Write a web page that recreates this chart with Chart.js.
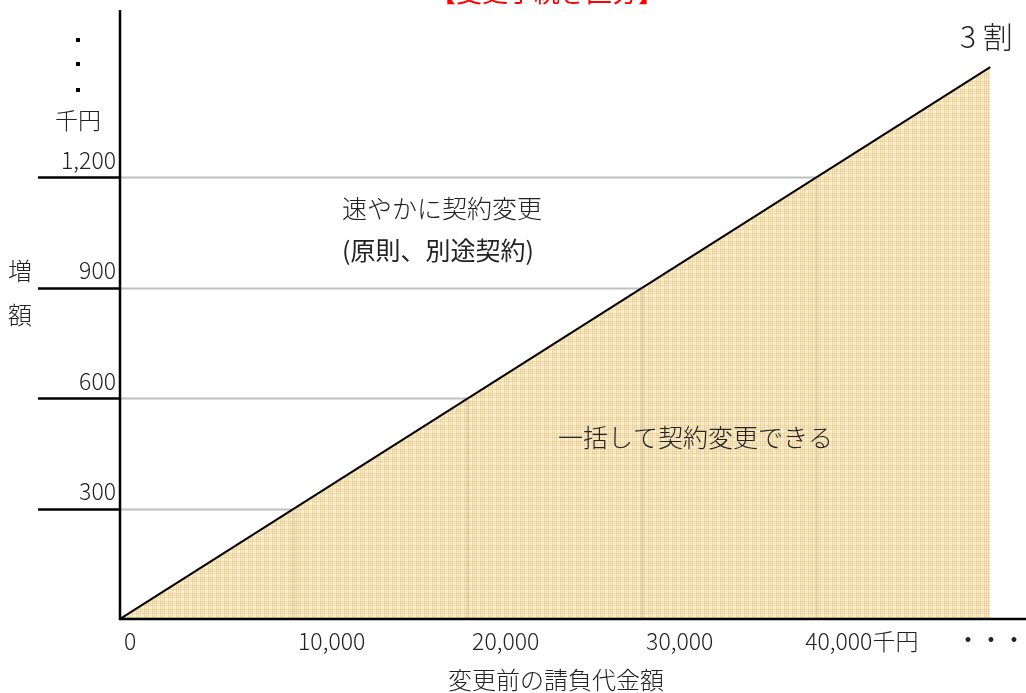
<!DOCTYPE html>
<html>
<head>
<meta charset="utf-8">
<script src="https://cdn.jsdelivr.net/npm/chart.js@4.4.1/dist/chart.umd.min.js"></script>
<style>
  html, body { margin: 0; padding: 0; background: #fff; }
  canvas { display: block; }
</style>
</head>
<body>
<canvas id="chart" width="1026" height="693"></canvas>
<script>
const lineX = [0, 50000];
const lineY = [0, 1500];
const xTickValues = [0, 10000, 20000, 30000, 40000];
const xTickLabels = ['0', '10,000', '20,000', '30,000', '40,000千円'];
const yTickValues = [300, 600, 900, 1200];
const yTickLabels = ['300', '600', '900', '1,200'];

const FONT = '"Noto Sans CJK JP", "Noto Sans", sans-serif';
const TEXT_COLOR = '#222';

function makeTexture() {
  const tile = document.createElement('canvas');
  tile.width = 8;
  tile.height = 8;
  const c = tile.getContext('2d');
  c.fillStyle = '#fdeed0';
  c.fillRect(0, 0, 8, 8);
  c.fillStyle = 'rgba(225, 195, 120, 0.5)';
  c.fillRect(0, 0, 1, 8);
  c.fillRect(4, 0, 1, 8);
  c.fillRect(0, 1, 8, 1);
  c.fillRect(0, 5, 8, 1);
  c.fillStyle = 'rgba(205, 175, 110, 0.3)';
  c.fillRect(2, 0, 1, 8);
  c.fillRect(0, 3, 8, 1);
  return c.createPattern(tile, 'repeat');
}

const gridPlugin = {
  id: 'gridPlugin',
  beforeDatasetsDraw(chart) {
    const { ctx, scales: { x, y } } = chart;
    ctx.save();
    yTickValues.forEach(v => {
      const py = Math.round(y.getPixelForValue(v)) + 0.5;
      ctx.strokeStyle = '#bfbfbf';
      ctx.lineWidth = 2;
      ctx.beginPath();
      ctx.moveTo(x.getPixelForValue(0), py);
      ctx.lineTo(x.getPixelForValue(lineX[lineX.length - 1]), py);
      ctx.stroke();
    });
    ctx.restore();
  },
  afterDatasetsDraw(chart) {
    const { ctx, chartArea, scales: { x, y } } = chart;
    const x0 = x.getPixelForValue(0);
    const y0 = y.getPixelForValue(0);
    ctx.save();

    // faint vertical bands inside the fill
    ctx.beginPath();
    ctx.moveTo(x0, y0);
    ctx.lineTo(x.getPixelForValue(lineX[1]), y.getPixelForValue(lineY[1]));
    ctx.lineTo(x.getPixelForValue(lineX[1]), y0);
    ctx.closePath();
    ctx.clip();
    ctx.fillStyle = 'rgba(170, 160, 130, 0.2)';
    xTickValues.slice(1).forEach(v => {
      ctx.fillRect(x.getPixelForValue(v) - 1.5, chartArea.top, 3, y0 - chartArea.top);
    });
    ctx.restore();

    ctx.save();
    // black tick stubs left of the y axis
    ctx.strokeStyle = '#000';
    ctx.lineWidth = 2.5;
    yTickValues.forEach(v => {
      const py = Math.round(y.getPixelForValue(v)) + 0.5;
      ctx.beginPath();
      ctx.moveTo(38, py);
      ctx.lineTo(x0, py);
      ctx.stroke();
    });

    // axes
    ctx.beginPath();
    ctx.moveTo(x0, chartArea.top);
    ctx.lineTo(x0, y0 + 1);
    ctx.stroke();
    ctx.beginPath();
    ctx.moveTo(x0 - 1, y0);
    ctx.lineTo(chart.width, y0);
    ctx.stroke();

    ctx.fillStyle = TEXT_COLOR;
    ctx.font = '300 23px ' + FONT;
    ctx.textBaseline = 'alphabetic';

    // y tick labels
    ctx.textAlign = 'right';
    yTickValues.forEach((v, i) => {
      ctx.fillText(yTickLabels[i], 116, y.getPixelForValue(v) - 8.5);
    });

    // x tick labels
    ctx.textAlign = 'left';
    xTickValues.forEach((v, i) => {
      const last = i === xTickValues.length - 1;
      ctx.fillText(xTickLabels[i], x.getPixelForValue(v) + (last ? -11 : 4), 650);
    });

    ctx.textBaseline = 'middle';
    ctx.textAlign = 'center';
    ctx.font = '400 23px ' + FONT;
    ctx.fillText('・・・', 991, 639);
    ctx.font = '300 23px ' + FONT;
    ctx.fillText('千円', 78, 120);

    // vertical dots above the y unit
    ctx.fillStyle = '#000';
    [40, 64, 90].forEach(py => ctx.fillRect(76, py - 2, 4, 4));

    ctx.fillStyle = TEXT_COLOR;
    ctx.font = '300 24px ' + FONT;
    ctx.fillText('増', 20, 271);
    ctx.fillText('額', 20, 315);
    ctx.fillText('変更前の請負代金額', 556, 680);

    ctx.textAlign = 'left';
    ctx.font = '300 25px ' + FONT;
    ctx.fillText('速やかに契約変更', 342, 208);
    ctx.fillText('一括して契約変更できる', 558, 437);
    ctx.font = '400 25px ' + FONT;
    ctx.fillText('(原則、別途契約)', 342, 250);

    ctx.font = '300 30px ' + FONT;
    ctx.fillText('3 割', 960, 37);

    ctx.fillStyle = '#ff0000';
    ctx.textAlign = 'center';
    ctx.textBaseline = 'alphabetic';
    ctx.font = '400 26px ' + FONT;
    ctx.fillText('【変更手続き区分】', 547, 2);
    ctx.restore();
  }
};

new Chart(document.getElementById('chart'), {
  type: 'line',
  data: {
    datasets: [{
      data: lineX.map((v, i) => ({ x: v, y: lineY[i] })),
      borderColor: '#000',
      borderWidth: 2,
      backgroundColor: makeTexture(),
      fill: 'origin',
      pointRadius: 0,
      tension: 0
    }]
  },
  options: {
    responsive: false,
    animation: false,
    devicePixelRatio: 1,
    layout: { padding: { left: 120, top: 10, right: 1, bottom: 74 } },
    plugins: { legend: { display: false }, tooltip: { enabled: false } },
    scales: {
      x: { type: 'linear', display: false, min: 0, max: 52000 },
      y: { type: 'linear', display: false, min: 0, max: 1655 }
    }
  },
  plugins: [gridPlugin]
});
</script>
</body>
</html>
